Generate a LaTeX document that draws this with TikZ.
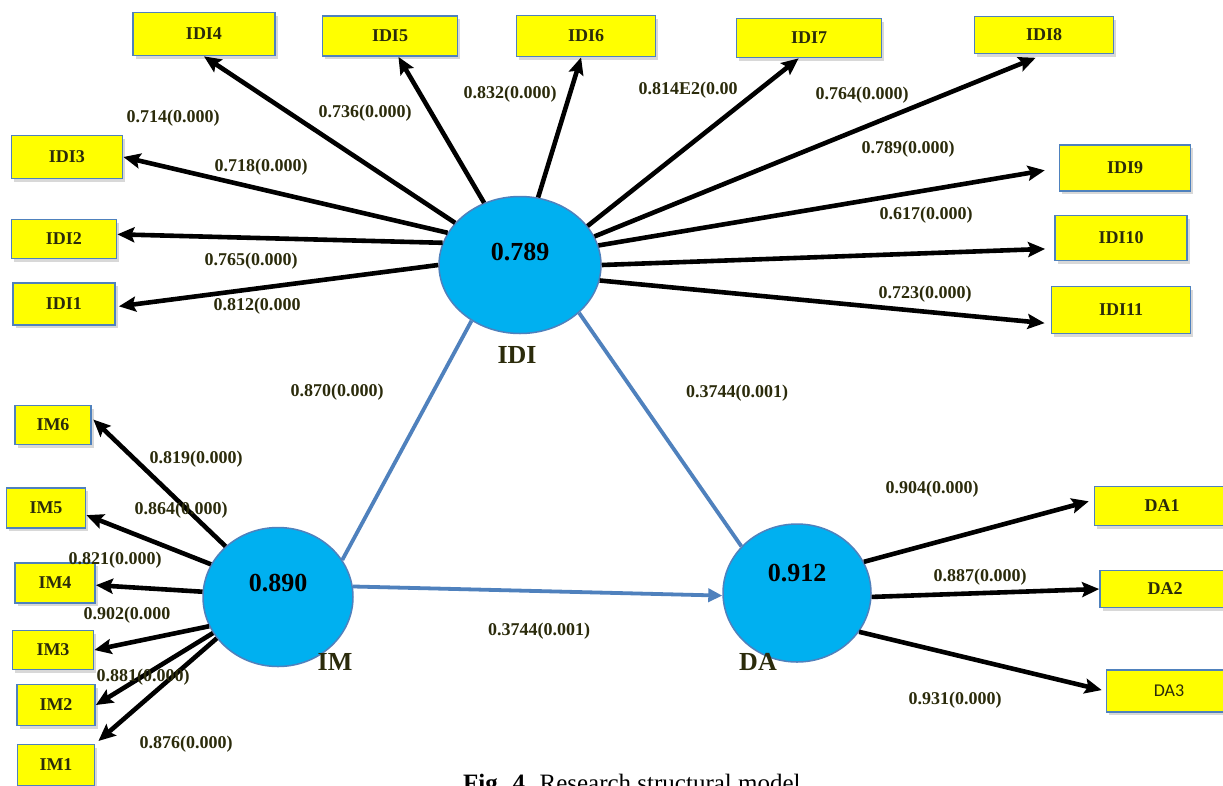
\documentclass[tikz,border=0pt]{standalone}
\usepackage{fontspec}
\setmainfont{Liberation Serif}
\newfontfamily\calibrifont{Carlito}
\usetikzlibrary{arrows.meta}
\usetikzlibrary{shapes.geometric}
\usetikzlibrary{shadows}

\definecolor{boxyellow}{HTML}{FFFF00}
\definecolor{edgeblue}{HTML}{4F81BD}
\definecolor{latentblue}{HTML}{00B0F0}
\definecolor{coefolive}{HTML}{2B2B0B}

\tikzset{
	item/.style={draw=edgeblue, line width=1.8pt, fill=boxyellow, inner sep=0pt,
		font=\fontsize{18}{20}\selectfont\bfseries, text=coefolive,
		drop shadow={shadow xshift=2.5pt, shadow yshift=-3pt, opacity=0.3}},
	latent/.style={ellipse, draw=edgeblue, line width=1.5pt, fill=latentblue, inner sep=0pt},
	load/.style={line width=4.6pt, -{Stealth[length=17pt,width=15pt,inset=3pt]}},
	struct/.style={edgeblue, line width=3.8pt},
	coef/.style={font=\fontsize{18}{20}\selectfont\bfseries, text=coefolive, inner sep=0pt},
	value/.style={font=\fontsize{26}{28}\selectfont\bfseries, inner sep=0pt},
	cname/.style={font=\fontsize{26}{28}\selectfont\bfseries, text=coefolive, inner sep=0pt}
}

\begin{document}
\begin{tikzpicture}[x=1pt, y=-1pt]
	\useasboundingbox (0,0) rectangle (1223,785);
	\fill[white] (0,0) rectangle (1223,785);
	\clip (0,0) rectangle (1223,785);
	
	% latent constructs
	\node[latent, minimum width=162pt, minimum height=137pt] (idi) at (520,265) {};
	\node[latent, minimum width=150pt, minimum height=139pt] (im) at (278,597) {};
	\node[latent, minimum width=148pt, minimum height=138pt] (da) at (797,593) {};
	\node[value] (idival) at (520,252) {0.789};
	\node[value] (imval) at (278,583) {0.890};
	\node[value] (daval) at (797,573) {0.912};
	\node[cname] (idiname) at (517,355) {IDI};
	\node[cname] (imname) at (335,662) {IM};
	\node[cname] (daname) at (758,662) {DA};
	
	% IDI indicators
	\node[item, minimum width=142pt, minimum height=43pt] (idi4) at (204,34) {IDI4};
	\node[item, minimum width=135pt, minimum height=40pt] (idi5) at (390,36) {IDI5};
	\node[item, minimum width=139pt, minimum height=41pt] (idi6) at (586,36) {IDI6};
	\node[item, minimum width=145pt, minimum height=39pt] (idi7) at (809,38) {IDI7};
	\node[item, minimum width=139pt, minimum height=37pt] (idi8) at (1044,35) {IDI8};
	\node[item, minimum width=131pt, minimum height=46pt] (idi9) at (1125,168) {IDI9};
	\node[item, minimum width=132pt, minimum height=45pt] (idi10) at (1121,238) {IDI10};
	\node[item, minimum width=139pt, minimum height=47pt] (idi11) at (1121,310) {IDI11};
	\node[item, minimum width=111pt, minimum height=43pt] (idi3) at (67,157) {IDI3};
	\node[item, minimum width=105pt, minimum height=39pt] (idi2) at (64,239) {IDI2};
	\node[item, minimum width=102pt, minimum height=42pt] (idi1) at (64,304) {IDI1};
	
	% IM indicators
	\node[item, minimum width=76pt, minimum height=39pt] (im6) at (53,425) {IM6};
	\node[item, minimum width=79pt, minimum height=40pt] (im5) at (46,508) {IM5};
	\node[item, minimum width=80pt, minimum height=40pt] (im4) at (55,583) {IM4};
	\node[item, minimum width=81pt, minimum height=39pt] (im3) at (53,650) {IM3};
	\node[item, minimum width=78pt, minimum height=41pt] (im2) at (56,705) {IM2};
	\node[item, minimum width=77pt, minimum height=41pt] (im1) at (56,765) {IM1};
	
	% DA indicators
	\node[item, minimum width=135pt, minimum height=39pt] (da1) at (1162,506) {DA1};
	\node[item, minimum width=130pt, minimum height=37pt] (da2) at (1165,589) {DA2};
	\node[item, minimum width=125pt, minimum height=42pt, font=\fontsize{18}{20}\calibrifont] (da3) at (1169,691) {DA3};
	
	% outer loadings
	\draw[load] (idi.147) -- (idi4.south);
	\draw[load] (idi.120) -- (idi5.-68);
	\draw[load] (idi.75) -- (idi6.-103);
	\draw[load] (idi.30) -- (idi7.-117);
	\draw[load, shorten >=9pt] (idi.21) -- (idi8.south);
	\draw[load, shorten >=14pt] (idi.14) -- (idi9.west);
	\draw[load, shorten >=9pt] (idi.0) -- (idi10.189);
	\draw[load, shorten >=6pt] (idi.-11) -- (idi11.191);
	\draw[load] (idi.156) -- (idi3.east);
	\draw[load] (idi.164) -- (idi2.5);
	\draw[load, shorten >=3pt] (idi.180) -- (idi1.-3);
	
	\draw[load, shorten >=2pt] (im.136) -- (im6.10);
	\draw[load] (im.154) -- (im5.-10);
	\draw[load] (im.176) -- (im4.-3);
	\draw[load] (im.203) -- (im3.east);
	\draw[load] (im.209) -- (im2.east);
	\draw[load, shorten >=4pt] (im.214) -- (im1.north east);
	
	\draw[load, shorten >=5pt] (da.25) -- (da1.175);
	\draw[load] (da.-3) -- (da2.west);
	\draw[load, shorten >=4pt] (da.-32) -- (da3.west);
	
	% inner model
	\draw[struct] (im.30) -- (idi.229);
	\draw[struct] (idi.-39) -- (da.140);
	\draw[struct, -{Triangle[length=14pt,width=13pt]}] (im.8) -- (da.182);
	
	% path coefficients
	\node[coef] (cidi4) at (173,118) {0.714(0.000)};
	\node[coef] (cidi5) at (365,113) {0.736(0.000)};
	\node[coef] (cidi6) at (510,94) {0.832(0.000)};
	\node[coef] (cidi7) at (688,90) {0.814E2(0.00};
	\node[coef] (cidi8) at (862,95) {0.764(0.000)};
	\node[coef] (cidi9) at (908,149) {0.789(0.000)};
	\node[coef] (cidi10) at (926,215) {0.617(0.000)};
	\node[coef] (cidi11) at (925,294) {0.723(0.000)};
	\node[coef] (cidi3) at (261,167) {0.718(0.000)};
	\node[coef] (cidi2) at (251,261) {0.765(0.000)};
	\node[coef] (cidi1) at (257,306) {0.812(0.000};
	\node[coef] (cimidi) at (337,392) {0.870(0.000)};
	\node[coef] (cidida) at (737,393) {0.3744(0.001)};
	\node[coef] (cimda) at (539,631) {0.3744(0.001)};
	\node[coef] (cim6) at (196,459) {0.819(0.000)};
	\node[coef] (cim5) at (181,510) {0.864(0.000)};
	\node[coef] (cim4) at (115,560) {0.821(0.000)};
	\node[coef] (cim3) at (127,615) {0.902(0.000};
	\node[coef] (cim2) at (143,677) {0.881(0.000)};
	\node[coef] (cim1) at (186,744) {0.876(0.000)};
	\node[coef] (cda1) at (932,489) {0.904(0.000)};
	\node[coef] (cda2) at (980,577) {0.887(0.000)};
	\node[coef] (cda3) at (955,700) {0.931(0.000)};
	
	\node[anchor=base west, inner sep=0pt, font=\fontsize{25}{27}\selectfont] (caption) at (463,791) {\textbf{Fig. 4.} Research structural model};
\end{tikzpicture}
\end{document}
